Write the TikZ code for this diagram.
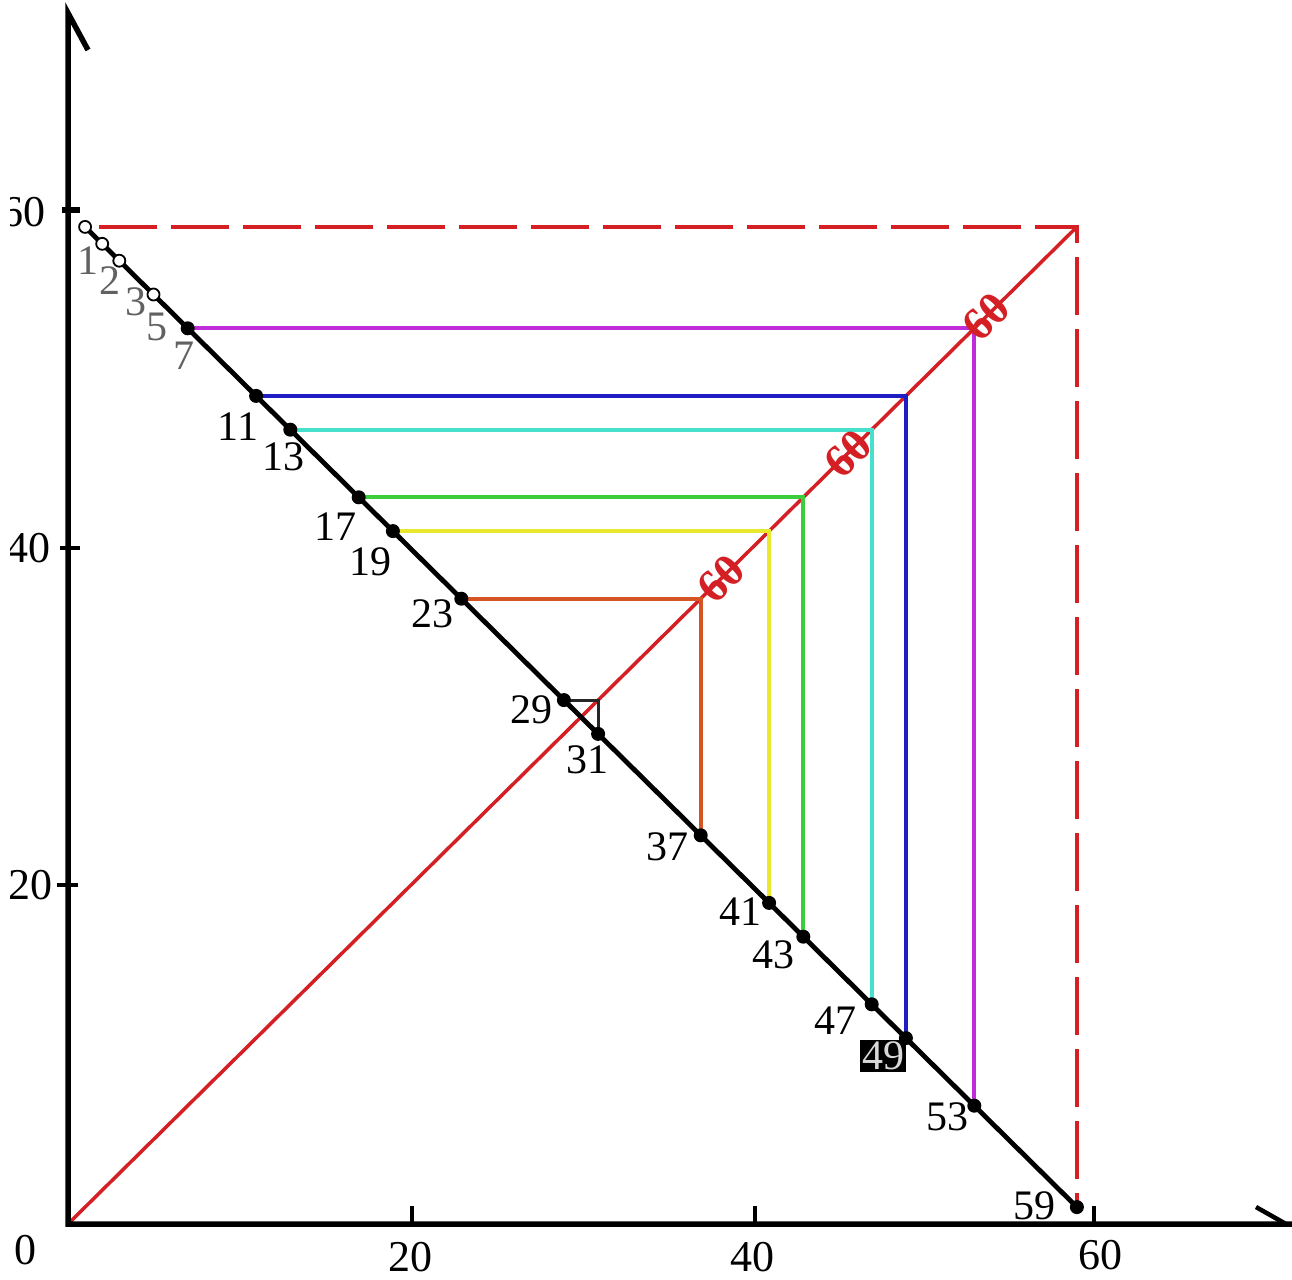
\documentclass[tikz,border=0pt]{standalone}
\usepackage{fontspec}
\setmainfont{Liberation Serif}
\usetikzlibrary{backgrounds}
\definecolor{cred}{RGB}{212,32,36}
\definecolor{cmag}{RGB}{190,45,215}
\definecolor{cblue}{RGB}{30,30,195}
\definecolor{ccyan}{RGB}{70,225,205}
\definecolor{cgreen}{RGB}{60,205,60}
\definecolor{cyel}{RGB}{232,232,45}
\definecolor{corg}{RGB}{212,85,35}
\tikzset{
  dot/.style={circle,fill=black,inner sep=0pt,minimum size=14pt},
  odot/.style={circle,draw=black,line width=1.8pt,fill=white,inner sep=0pt,minimum size=12pt},
  lab/.style={font=\fontsize{42}{42}\selectfont,inner sep=0pt},
  glab/.style={lab,text=black!62},
  axlab/.style={font=\fontsize{44}{44}\selectfont,inner sep=0pt},
  sixty/.style={font=\bfseries\fontsize{46}{46}\selectfont,text=cred,rotate=45,inner sep=0pt},
  pairline/.style={line width=4.2pt},
  axisline/.style={line width=5.5pt,line join=miter},
}
\begin{document}
\begin{tikzpicture}[x=1pt,y=-1pt]
\useasboundingbox (0,0) rectangle (1292,1279);
% axes
\coordinate (O) at (68,1224);
\coordinate (ytop) at (68,13);
\coordinate (ybarb) at (88,50);
\coordinate (xend) at (1292,1224);
\coordinate (xbarbA) at (1286,1224);
\coordinate (xbarbB) at (1256,1207);
\draw[axisline] (ybarb) -- (ytop) -- (O) -- (xend);
\draw[line width=4.5pt] (xbarbA) -- (xbarbB);
% ticks
\draw[line width=3.5pt] (412,1224) -- (412,1206);
\draw[line width=3.5pt] (755,1224) -- (755,1206);
\draw[line width=3.5pt] (1094,1224) -- (1094,1206);
\draw[line width=4pt] (57,885) -- (78,885);
\draw[line width=4pt] (60,548) -- (80,548);
\draw[line width=6pt] (62,210) -- (80,210);
% axis labels
\node[axlab] (x0) at (25,1250) {0};
\node[axlab] (x20) at (410,1257) {20};
\node[axlab] (x40) at (752,1257) {40};
\node[axlab] (x60) at (1100,1255) {60};
\begin{scope}
  \clip (10,0) rectangle (200,1279);
  \node[axlab,anchor=east] (y20) at (53,885) {20};
  \node[axlab,anchor=east] (y40) at (51,548) {40};
  \node[axlab,anchor=east] (y60) at (46,212) {60};
\end{scope}
% data scope
\begin{scope}[shift={(68,1224)},x=17.1pt,y=16.9pt]
  \coordinate (corner) at (59,59);
  \foreach \q in {53,49,47,43,41,37,31}{\coordinate (d\q) at (\q,\q);}
  \foreach \p in {1,2,3,5}{\node[odot] (p\p) at (\p,{60-\p}) {};}
  \foreach \p in {7,11,13,17,19,23,29,31,37,41,43,47,49,53,59}{\node[dot] (p\p) at (\p,{60-\p}) {};}
  \node[sixty] (s1) at (53.7,53.7) {60};
  \node[sixty] (s2) at (45.6,45.6) {60};
  \node[sixty] (s3) at (38.2,38.2) {60};
\end{scope}
% connecting lines (behind the dots)
\begin{scope}[on background layer]
  \draw[cred,line width=3.5pt] (O) -- (corner);
  \draw[cred,line width=4.5pt,dash pattern=on 58pt off 14pt,dash phase=-14pt] (p1.center) -- (corner) -- (p59.center);
  \draw[cmag,pairline] (p7.center) -- (d53) -- (p53.center);
  \draw[cblue,pairline] (p11.center) -- (d49) -- (p49.center);
  \draw[ccyan,pairline] (p13.center) -- (d47) -- (p47.center);
  \draw[cgreen,pairline] (p17.center) -- (d43) -- (p43.center);
  \draw[cyel,pairline] (p19.center) -- (d41) -- (p41.center);
  \draw[corg,pairline] (p23.center) -- (d37) -- (p37.center);
  \draw[black!85,line width=2.8pt] (p29.center) -- (d31) -- (p31.center);
  \draw[black,line width=4.8pt] (p1.center) -- (p59.center);
\end{scope}
% point labels
\node[glab] (l1) at (88,261) {1};
\node[glab] (l2) at (110,281) {2};
\node[glab] (l3) at (136,302) {3};
\node[glab] (l5) at (157,327) {5};
\node[glab] (l7) at (184,356) {7};
\node[lab] (l11) at (238,427) {11};
\node[lab] (l13) at (283,457) {13};
\node[lab] (l17) at (335,527) {17};
\node[lab] (l19) at (370,562) {19};
\node[lab] (l23) at (432,614) {23};
\node[lab] (l29) at (531,710) {29};
\node[lab] (l31) at (587,760) {31};
\node[lab] (l37) at (667,847) {37};
\node[lab] (l41) at (740,912) {41};
\node[lab] (l43) at (773,955) {43};
\node[lab] (l47) at (835,1021) {47};
\node[lab,fill=black,text=white!85!black,inner xsep=2pt,inner ysep=2pt] (l49) at (883,1056) {49};
\node[lab] (l53) at (947,1117) {53};
\node[lab] (l59) at (1034,1206) {59};
\end{tikzpicture}
\end{document}
